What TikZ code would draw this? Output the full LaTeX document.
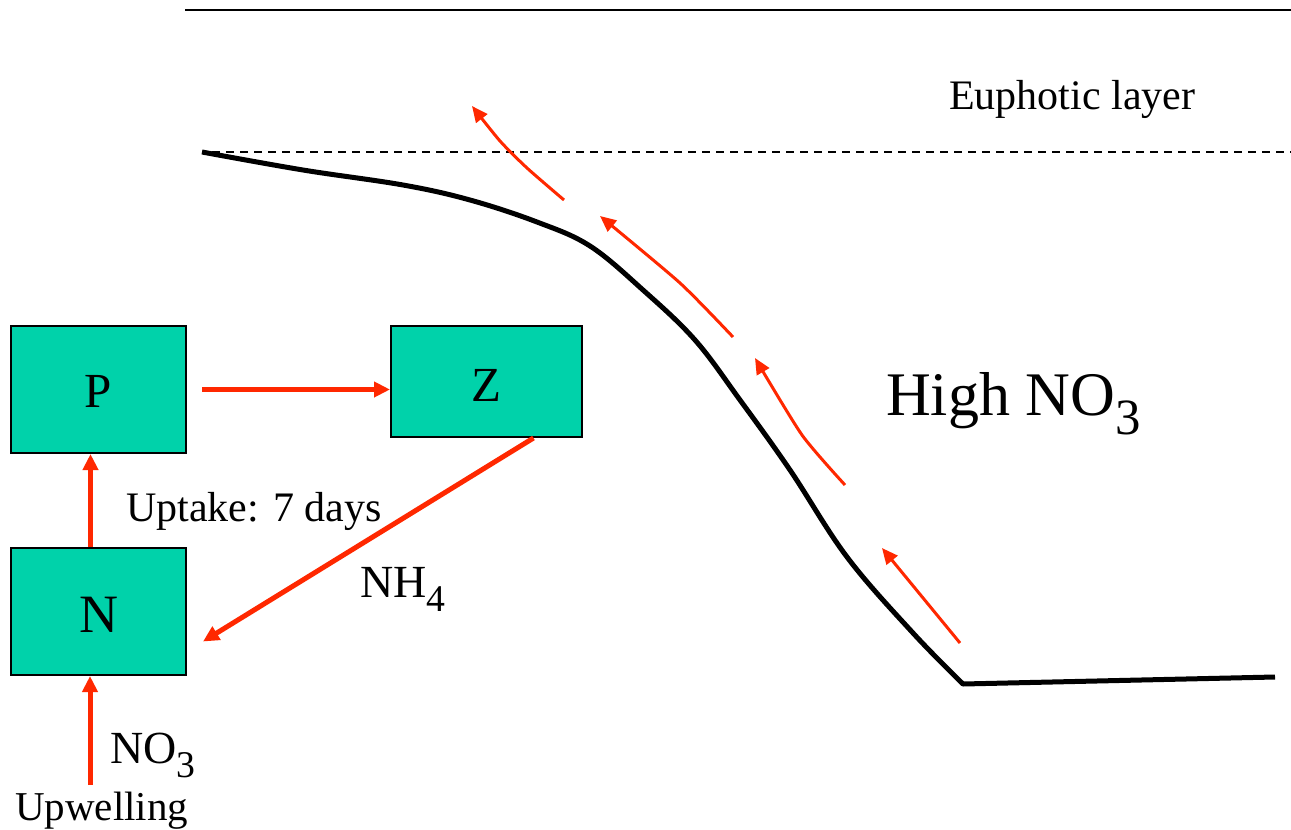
\documentclass[tikz,border=0pt]{standalone}
\usepackage{fontspec}
\usepackage{graphicx}
\setmainfont{Liberation Serif}
\usetikzlibrary{arrows.meta}
\definecolor{boxgreen}{RGB}{0,210,170}
\definecolor{flowred}{RGB}{255,40,0}
\newcommand\chemsub[1]{\raisebox{-0.32em}{\scalebox{0.82}{#1}}}
\newcommand\fs[1]{\fontsize{#1}{#1}\selectfont}
\newcommand\lowered[2]{\raisebox{-#1}[\height][0pt]{#2}}
\tikzset{
  box/.style={draw=black, line width=2pt, fill=boxgreen, inner sep=0pt, font=\fs{49}},
  flowthick/.style={draw=flowred, line width=5pt, -{Triangle[length=16pt,width=15pt]}},
  flowthin/.style={draw=flowred, line width=3pt, -{Triangle[length=16pt,width=14pt]}},
  label/.style={inner sep=0pt, anchor=base west},
  shelf/.style={draw=black, line width=5pt, line join=round},
}
\begin{document}
\begin{tikzpicture}[x=1pt,y=-1pt]
\useasboundingbox (0,0) rectangle (1291,830);
% top rule and euphotic boundary
\coordinate (topL) at (185,10);
\coordinate (topR) at (1291,10);
\draw[line width=2pt] (topL) -- (topR);
\coordinate (dashL) at (212,152);
\coordinate (dashR) at (1291,152);
\draw[line width=2pt, dash pattern=on 8pt off 6pt] (dashL) -- (dashR);
\node[label] (euph) at (949,109) {\fs{42}Euphotic layer};
% shelf profile
\draw[shelf] plot[smooth, tension=0.6] coordinates {(202,152) (303,170) (403,185) (470,200) (537,222) (590,246) (643,290) (695,340) (740,400) (790,470) (847,557) (913,633) (963,684)} -- (1275,677);
% thin upwelling arrows along slope
\draw[flowthin] plot[smooth, tension=0.4] coordinates {(564,200) (527,168) (500,141) (472,106)};
\draw[flowthin] plot[smooth, tension=0.4] coordinates {(733,337) (680,283) (600,216)};
\draw[flowthin] plot[smooth, tension=0.4] coordinates {(845,485) (802,435) (755,358)};
\draw[flowthin] (960,643) -- (882,548);
\node[label] (high) at (886,415) {\fs{62}High NO\chemsub{3}};
% NPZ boxes
\node[box, minimum width=175pt, minimum height=127pt] (P) at (98.5,389.5) {\lowered{2pt}{P}};
\node[box, minimum width=191pt, minimum height=111pt] (Z) at (486.5,381.5) {\lowered{4pt}{Z}};
\node[box, minimum width=175pt, minimum height=127pt, font=\fs{54}] (N) at (98.5,611.5) {\lowered{3pt}{N}};
\draw[flowthick] ([xshift=15pt]P.east) -- (P.east -| Z.west);
\draw[flowthick] ([xshift=-8pt]N.north) -- ([xshift=-8pt]P.south);
\draw[flowthick] ([xshift=47pt]Z.south) -- ([xshift=16pt,yshift=-30pt]N.east);
\coordinate (upw) at (90,785);
\draw[flowthick] (upw) -- ([xshift=-8.5pt]N.south);
% labels
\node[label] (uptake) at (126,521) {\fs{42}Uptake: 7 days};
\node[label] (nh4) at (360,597) {\fs{46}NH\chemsub{4}};
\node[label] (no3) at (110,763) {\fs{46}NO\chemsub{3}};
\node[label] (upwelling) at (15,820) {\fs{41}Upwelling};
\end{tikzpicture}
\end{document}
